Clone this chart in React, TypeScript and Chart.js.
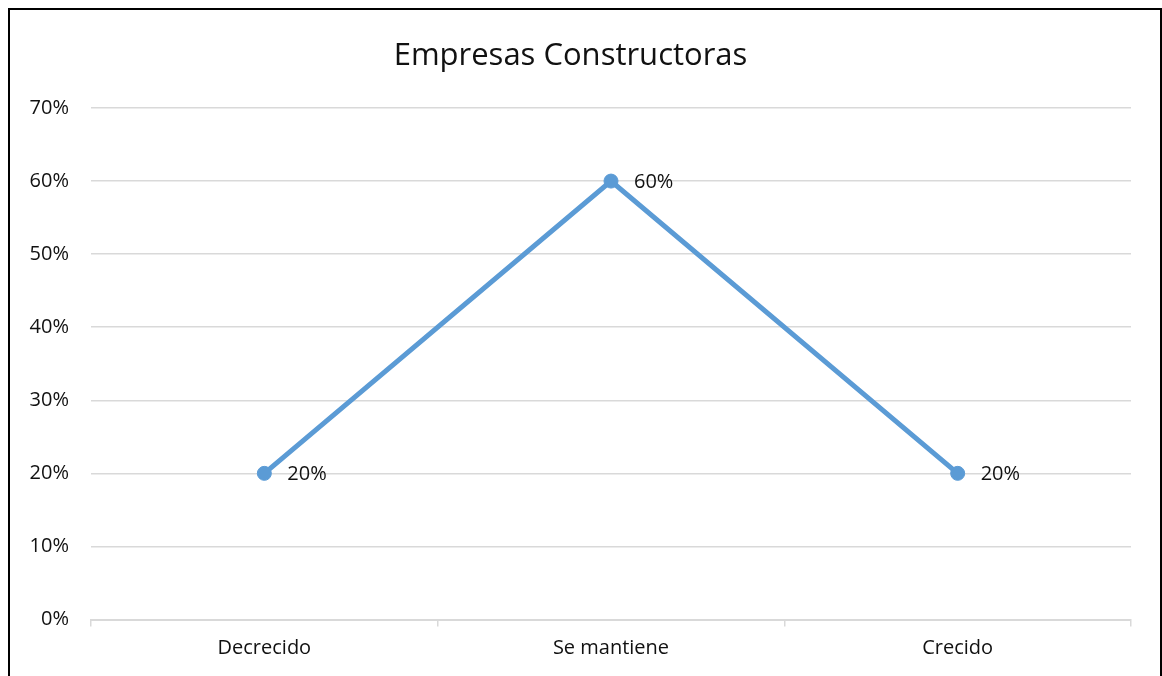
import React, { useEffect, useRef } from "react";
import { Chart, registerables } from "chart.js";

Chart.register(...registerables);

const categories = ["Decrecido", "Se mantiene", "Crecido"];
const values = [0.2, 0.6, 0.2];
const yTicks = [0, 0.1, 0.2, 0.3, 0.4, 0.5, 0.6, 0.7];
const titleText = "Empresas Constructoras";

const FONT = "'Open Sans', 'DejaVu Sans', sans-serif";
const TEXT = "#111111";
const LINE = "#5b9bd5";
const GRID = "#d9d9d9";

const pct = (v: number) => Math.round(v * 100) + "%";

const labelPlugin = {
  id: "pointLabels",
  afterDatasetsDraw(chart: any) {
    const ctx = chart.ctx;
    const meta = chart.getDatasetMeta(0);
    ctx.save();
    ctx.font = `20px ${FONT}`;
    ctx.fillStyle = TEXT;
    ctx.textAlign = "left";
    ctx.textBaseline = "middle";
    meta.data.forEach((pt: any, i: number) => {
      ctx.fillText(pct(values[i]), pt.x + 23, pt.y + 1);
    });
    ctx.restore();
  },
};

export default function App() {
  const ref = useRef<HTMLCanvasElement | null>(null);
  useEffect(() => {
    document.documentElement.style.overflow = "hidden";
    document.body.style.overflow = "hidden";
    if (!ref.current) return;
    const chart = new Chart(ref.current, {
      type: "line",
      data: {
        labels: categories,
        datasets: [
          {
            data: values,
            borderColor: LINE,
            backgroundColor: LINE,
            borderWidth: 5,
            pointRadius: 7,
            pointBorderWidth: 1,
            pointBackgroundColor: LINE,
            pointBorderColor: LINE,
            tension: 0,
          },
        ],
      },
      options: {
        responsive: false,
        animation: false,
        layout: { padding: { left: 0, right: 28, top: 0, bottom: 0 } },
        plugins: {
          legend: { display: false },
          tooltip: { enabled: false },
          title: {
            display: true,
            text: titleText,
            color: TEXT,
            font: { family: FONT, size: 31, weight: "normal" },
            padding: { top: 28, bottom: 32.8 },
          },
        },
        scales: {
          x: {
            offset: true,
            grid: {
              offset: true,
              drawOnChartArea: false,
              drawTicks: true,
              tickLength: 7,
              color: GRID,
              lineWidth: 1.5,
            },
            border: { display: true, color: GRID, width: 2 },
            ticks: {
              color: TEXT,
              font: { family: FONT, size: 20 },
              padding: 10,
            },
            afterFit: (s: any) => {
              s.height = 48.5;
            },
          },
          y: {
            min: 0,
            max: 0.7,
            afterBuildTicks: (s: any) => {
              s.ticks = yTicks.map((v) => ({ value: v }));
            },
            grid: { color: GRID, lineWidth: 1.5, drawTicks: false },
            border: { display: false },
            ticks: {
              color: TEXT,
              font: { family: FONT, size: 20 },
              padding: 22,
              callback: (v: any) => pct(Number(v)),
            },
            afterFit: (s: any) => {
              s.width = 81;
            },
          },
        },
      },
      plugins: [labelPlugin],
    });
    return () => chart.destroy();
  }, []);

  return (
    <div
      style={{
        position: "fixed",
        left: 8,
        top: 8,
        right: 0,
        bottom: -20,
        boxSizing: "border-box",
        borderTop: "2px solid #000",
        borderLeft: "2px solid #000",
        borderRight: "2px solid #000",
        borderBottom: "none",
        background: "#fff",
      }}
    >
      <canvas ref={ref} width={1149} height={658} style={{ display: "block" }} />
    </div>
  );
}
